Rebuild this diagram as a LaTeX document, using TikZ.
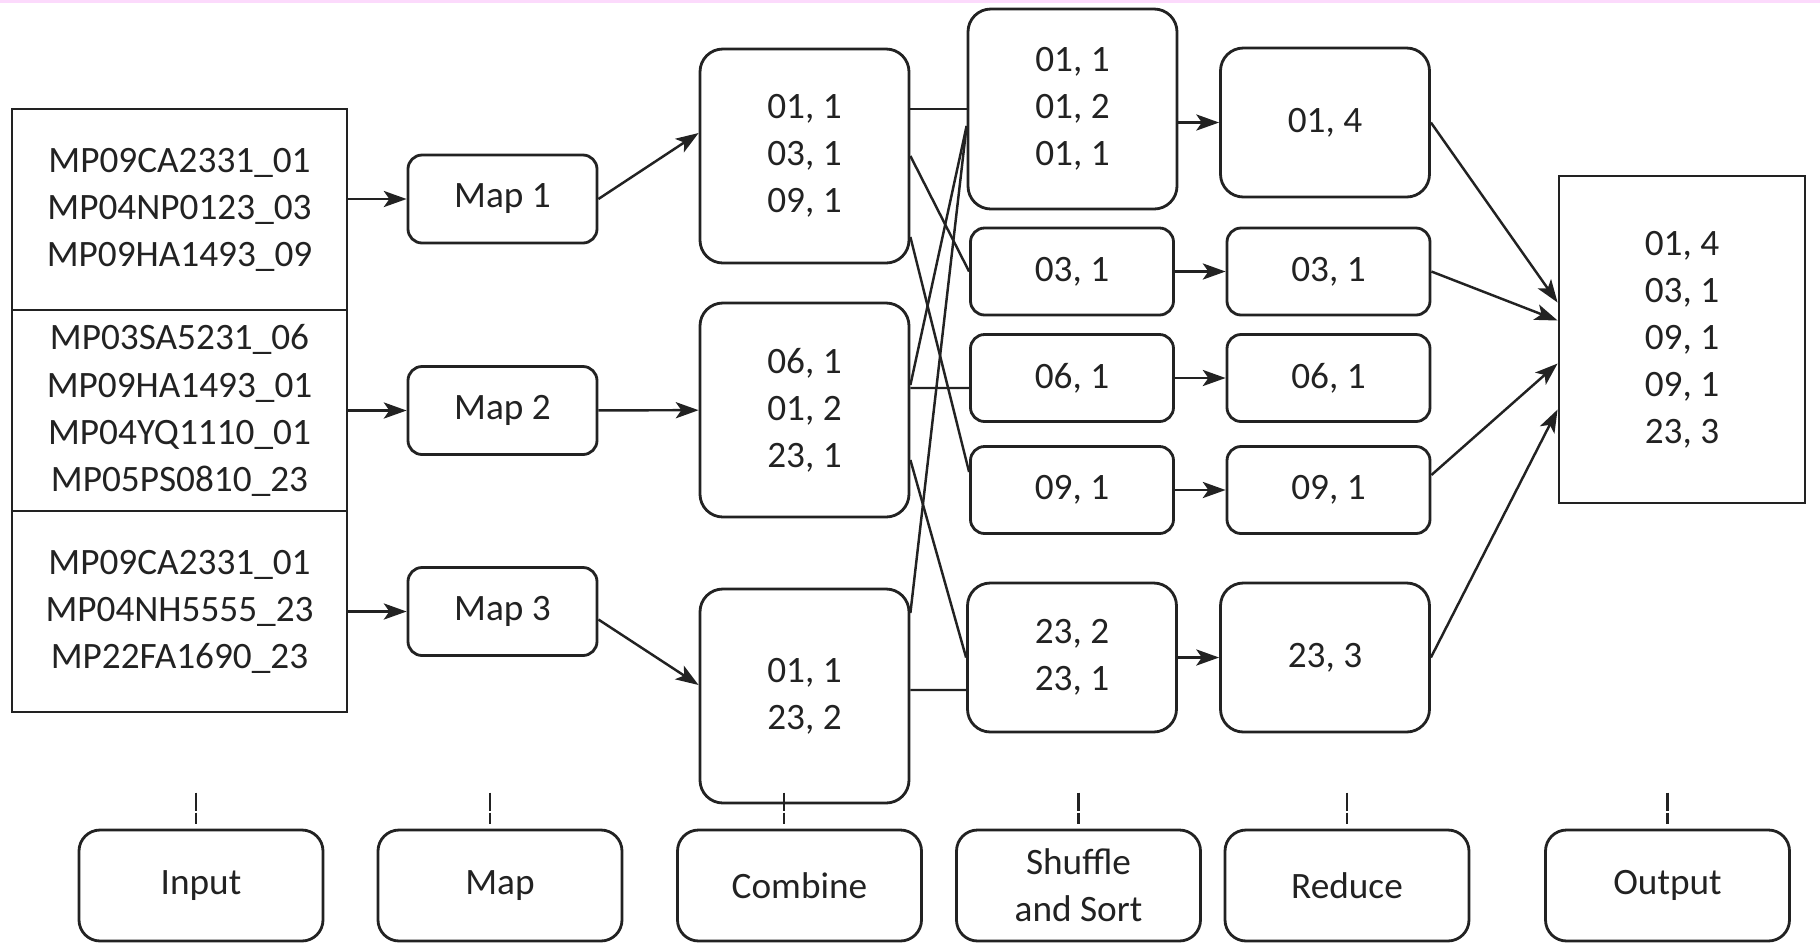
\documentclass[tikz,border=0pt]{standalone}
\usepackage{fontspec}
\setmainfont{Carlito}
\usetikzlibrary{arrows.meta,calc}
\definecolor{ink}{RGB}{34,34,34}
\definecolor{topband}{RGB}{252,218,252}

\begin{document}
\begin{tikzpicture}[
    box/.style={draw=ink, line width=0.8pt, align=center, inner sep=0pt, text=ink, font=\fontsize{10.6}{13.4}\selectfont},
    split/.style={box, minimum width=3.35cm, minimum height=2.01cm},
    mapbox/.style={box, rounded corners=4pt, minimum width=1.89cm, minimum height=0.88cm},
    pair/.style={box, rounded corners=4pt, minimum width=2.03cm, minimum height=0.87cm},
    bigpair/.style={box, rounded corners=6.5pt, minimum width=2.09cm},
    phase/.style={box, rounded corners=6pt, minimum width=2.44cm, minimum height=1.11cm},
    arrow/.style={-{Stealth[length=6.5pt, width=4.6pt, inset=1.6pt]}, line width=0.7pt, draw=ink},
    link/.style={line width=0.7pt, draw=ink},
    tick/.style={line width=0.7pt, draw=ink, dash pattern=on 5.1pt off 0.6pt}
]
\useasboundingbox (0,0) rectangle (18.2,-9.43);
\fill[topband] (0,0) rectangle (18.2,-0.03);

% Input splits
\node[split] (in1) at (1.795,-2.095) {MP09CA2331\_01\\MP04NP0123\_03\\MP09HA1493\_09};
\node[split] (in2) at (1.795,-4.105) {MP03SA5231\_06\\MP09HA1493\_01\\MP04YQ1110\_01\\MP05PS0810\_23};
\node[split] (in3) at (1.795,-6.115) {MP09CA2331\_01\\MP04NH5555\_23\\MP22FA1690\_23};

% Map
\node[mapbox] (map1) at (5.025,-1.99) {Map 1};
\node[mapbox] (map2) at (5.025,-4.105) {Map 2};
\node[mapbox] (map3) at (5.025,-6.115) {Map 3};

% Combine
\node[bigpair, minimum height=2.14cm] (c1) at (8.045,-1.56) {01, 1\\03, 1\\09, 1};
\node[bigpair, minimum height=2.14cm] (c2) at (8.045,-4.10) {06, 1\\01, 2\\23, 1};
\node[bigpair, minimum height=2.14cm] (c3) at (8.045,-6.96) {01, 1\\23, 2};

% Shuffle and sort
\node[bigpair, minimum height=2.0cm] (s1) at (10.725,-1.09) {01, 1\\01, 2\\01, 1};
\node[pair] (s2) at (10.72,-2.715) {03, 1};
\node[pair] (s3) at (10.72,-3.78) {06, 1};
\node[pair] (s4) at (10.72,-4.90) {09, 1};
\node[bigpair, minimum height=1.49cm] (s5) at (10.72,-6.575) {23, 2\\23, 1};

% Reduce
\node[bigpair, minimum height=1.49cm] (r1) at (13.25,-1.225) {01, 4};
\node[pair] (r2) at (13.285,-2.715) {03, 1};
\node[pair] (r3) at (13.285,-3.78) {06, 1};
\node[pair] (r4) at (13.285,-4.90) {09, 1};
\node[bigpair, minimum height=1.49cm] (r5) at (13.25,-6.575) {23, 3};

% Output
\node[box, minimum width=2.46cm, minimum height=3.27cm] (out) at (16.82,-3.395) {01, 4\\03, 1\\09, 1\\09, 1\\23, 3};

% Phase labels
\node[phase] (lin) at (2.01,-8.855) {Input};
\node[phase] (lmap) at (5.00,-8.855) {Map};
\node[phase] (lcomb) at (7.995,-8.855) {Combine};
\node[phase] (lshuf) at (10.785,-8.855) {Shuffle\\and Sort};
\node[phase] (lred) at (13.47,-8.855) {Reduce};
\node[phase] (lout) at (16.675,-8.855) {Output};

\foreach \n/\dx in {lin/-0.05, lmap/-0.1, lcomb/-0.155, lshuf/0, lred/0, lout/0}
    \draw[tick] ([xshift=\dx cm, yshift=0.36cm]\n.north) -- ++(0,-0.31);

% Arrows
\foreach \i in {1,2,3}
    \draw[arrow] (in\i.east |- map\i) -- (map\i);

\draw[arrow] (map1.east) -- ([yshift=0.23cm]c1.west);
\draw[arrow] (map2) -- (c2);
\draw[arrow] ([yshift=-0.08cm]map3.east) -- ([yshift=0.11cm]c3.west);

\draw[link] (c1.east |- s1.west) -- (s1.west);
\draw[link] (c1.east) -- (s2.west);
\draw[link] ([yshift=-0.81cm]c1.east) -- ([yshift=0.18cm]s4.west);
\draw[link] ([yshift=0.25cm]c2.east) -- ([yshift=-0.17cm]s1.west);
\draw[link] ([yshift=0.22cm]c2.east) -- ([yshift=-0.1cm]s3.west);
\draw[link] ([yshift=-0.5cm]c2.east) -- (s5.west);
\draw[link] ([yshift=0.83cm]c3.east) -- ([yshift=-0.17cm]s1.west);
\draw[link] ([yshift=0.06cm]c3.east) -- ([yshift=-0.325cm]s5.west);

\draw[arrow] (s1.east |- r1.west) -- (r1.west);
\foreach \i in {2,...,5}
    \draw[arrow] (s\i) -- (r\i);

\draw[arrow] (r1.east) -- ([yshift=0.37cm]out.west);
\draw[arrow] (r2.east) -- ([yshift=0.19cm]out.west);
\draw[arrow] ([yshift=0.15cm]r4.east) -- ([yshift=-0.24cm]out.west);
\draw[arrow] (r5.east) -- ([yshift=-0.70cm]out.west);

\end{tikzpicture}
\end{document}
